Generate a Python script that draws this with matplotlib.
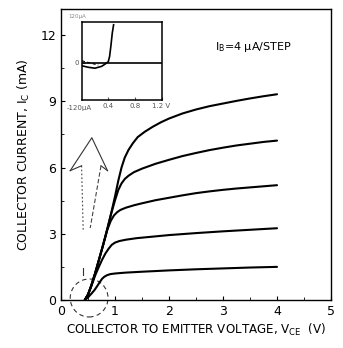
import numpy as np
import matplotlib
matplotlib.use('Agg')
import matplotlib.pyplot as plt
from matplotlib.patches import Ellipse

# collector current curves, one per base current step (V in volts, I in mA)
v1 = [0.44, 0.5, 0.56, 0.62, 0.67, 0.72, 0.76, 0.8, 0.85, 0.91, 1.0, 1.2, 1.5, 2.0, 2.5, 3.0, 3.5, 4.0]
i1 = [0.0, 0.12, 0.28, 0.45, 0.63, 0.82, 0.96, 1.05, 1.12, 1.17, 1.2, 1.24, 1.28, 1.34, 1.39, 1.43, 1.47, 1.5]
v2 = [0.44, 0.5, 0.56, 0.63, 0.7, 0.76, 0.82, 0.88, 0.94, 1.0, 1.08, 1.2, 1.4, 1.7, 2.0, 2.5, 3.0, 3.5, 4.0]
i2 = [0.0, 0.25, 0.62, 1.1, 1.5, 1.82, 2.1, 2.32, 2.5, 2.6, 2.67, 2.73, 2.8, 2.87, 2.94, 3.03, 3.11, 3.18, 3.25]
v3 = [0.44, 0.5, 0.56, 0.63, 0.7, 0.78, 0.86, 0.92, 0.98, 1.04, 1.1, 1.2, 1.35, 1.5, 1.75, 2.0, 2.25, 2.5,
      2.75, 3.0, 3.25, 3.5, 3.75, 4.0]
i3 = [0.0, 0.25, 0.65, 1.2, 1.8, 2.5, 3.2, 3.58, 3.83, 3.98, 4.08, 4.18, 4.29, 4.38, 4.52, 4.63, 4.74, 4.84,
      4.92, 4.99, 5.05, 5.1, 5.15, 5.2]
v4 = [0.44, 0.5, 0.56, 0.63, 0.7, 0.78, 0.86, 0.93, 1.0, 1.06, 1.12, 1.18, 1.25, 1.35, 1.5, 1.75, 2.0, 2.25,
      2.5, 2.75, 3.0, 3.25, 3.5, 3.75, 4.0]
i4 = [0.0, 0.25, 0.65, 1.2, 1.8, 2.5, 3.25, 3.92, 4.52, 4.98, 5.28, 5.48, 5.63, 5.79, 5.95, 6.17, 6.35, 6.52,
      6.66, 6.79, 6.9, 7.0, 7.08, 7.16, 7.22]
v5 = [0.44, 0.5, 0.56, 0.63, 0.7, 0.78, 0.86, 0.93, 1.0, 1.06, 1.12, 1.18, 1.25, 1.33, 1.42, 1.55, 1.7, 1.85,
      2.0, 2.25, 2.5, 2.75, 3.0, 3.25, 3.5, 3.75, 4.0]
i5 = [0.0, 0.25, 0.65, 1.2, 1.8, 2.5, 3.25, 3.95, 4.7, 5.4, 6.0, 6.45, 6.8, 7.1, 7.38, 7.62, 7.85, 8.05,
      8.22, 8.45, 8.63, 8.78, 8.9, 9.02, 9.13, 9.23, 9.32]
curves = [(v1, i1), (v2, i2), (v3, i3), (v4, i4), (v5, i5)]

xticks = [0, 1, 2, 3, 4, 5]
yticks = [0, 3, 6, 9, 12]

# inset: low current zoom (V, uA)
inset_v = [0.0, 0.1, 0.2, 0.3, 0.35, 0.4, 0.42, 0.44, 0.46, 0.48]
inset_i = [-10, -15, -18, -12, -5, 3, 20, 55, 95, 122]
inset_xticks = [0.4, 0.8, 1.2]
inset_xlabels = ['0.4', '0.8', '1.2 V']

plt.rcParams['font.family'] = ['DejaVu Sans']
fig = plt.figure(figsize=(3.43, 3.48), dpi=100)
ax = fig.add_axes([0.178, 0.138, 0.787, 0.836])

for v, i in curves:
    ax.plot(v, i, color='black', lw=1.5, solid_capstyle='round', solid_joinstyle='round')

# hollow arrow, head solid, stems dashed
ax.plot([0.17, 0.57, 0.86], [5.86, 7.35, 5.86], color='#333333', lw=0.8)
ax.plot([0.17, 0.38], [5.86, 6.08], color='#333333', lw=0.8)
ax.plot([0.86, 0.74], [5.86, 6.08], color='#333333', lw=0.8)
ax.plot([0.38, 0.41], [6.08, 3.17], color='#444444', lw=0.8, ls=(0, (1.5, 2)))
ax.plot([0.74, 0.54], [6.08, 3.26], color='#444444', lw=0.8, ls=(0, (4, 2)))

# dashed circle around the origin region
ax.add_patch(Ellipse((0.52, 0.09), 0.7, 1.72, fill=False, ls=(0, (4, 3)),
                     lw=0.8, color='#333333', clip_on=False))
ax.plot([0.41, 0.41], [1.15, 1.45], color='#333333', lw=0.8)

ax.text(2.85, 11.46, r'I$_\mathrm{B}$=4 μA/STEP', fontsize=8, va='center')

ax.set_xlim(0, 5)
ax.set_ylim(0, 13.18)
ax.set_xticks(xticks)
ax.set_yticks(yticks)
ax.set_xticks(np.arange(0.5, 5, 1.0), minor=True)
ax.set_yticks(np.arange(1.5, 13, 3.0), minor=True)
ax.tick_params(which='both', direction='in', labelsize=9)
ax.tick_params(which='major', length=3)
ax.tick_params(which='minor', length=2)
for s in ax.spines.values():
    s.set_linewidth(1.0)
ax.set_xlabel(r'COLLECTOR TO EMITTER VOLTAGE, V$_{\mathrm{CE}}$  (V)', fontsize=8.6, labelpad=3)
ax.set_ylabel(r'COLLECTOR CURRENT, I$_{\mathrm{C}}$ (mA)', fontsize=9, labelpad=6)

# inset
ins = fig.add_axes([0.238, 0.713, 0.233, 0.223])
ins.axhline(0, color='black', lw=1.2)
ins.plot(inset_v, inset_i, color='black', lw=1.2)
ins.plot([0.0, 0.25], [6, -8], color='black', lw=0.8, ls=(0, (3, 2)))
ins.set_xlim(0, 1.2)
ins.set_ylim(-120, 130)
ins.set_xticks(inset_xticks)
ins.set_xticklabels(inset_xlabels)
ins.set_yticks([0])
ins.set_yticklabels(['0'])
ins.tick_params(direction='in', length=2, labelsize=5, colors='#555555', pad=2)
for s in ins.spines.values():
    s.set_linewidth(1.1)
ins.text(-0.03, -0.065, '-120μA', transform=ins.transAxes, fontsize=5,
         color='#555555', ha='center', va='top')
ins.text(0.05, 1.07, '120μA', transform=ins.transAxes, fontsize=4,
         color='#888888', ha='right', va='center')

fig.savefig('out.png', dpi=100)
